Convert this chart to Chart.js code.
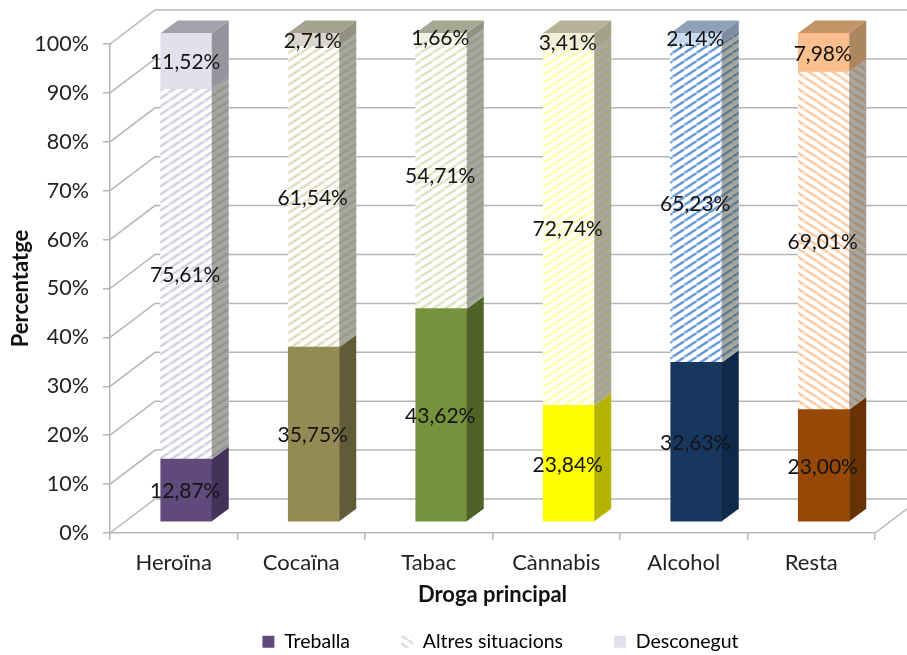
<!DOCTYPE html>
<html><head><meta charset="utf-8">
<style>html,body{margin:0;padding:0;background:#fff}canvas{display:block}</style>
<script src="https://cdn.jsdelivr.net/npm/chart.js@4"></script>
</head><body><canvas id="c" width="907" height="655"></canvas>
<script>
const categories=["Heroïna","Cocaïna","Tabac","Cànnabis","Alcohol","Resta"];
const treballa=[12.87,35.75,43.62,23.84,32.63,23.00];
const altres=[75.61,61.54,54.71,72.74,65.23,69.01];
const desconegut=[11.52,2.71,1.66,3.41,2.14,7.98];
const seriesNames=["Treballa","Altres situacions","Desconegut"];
const yTicks=[0,10,20,30,40,50,60,70,80,90,100];

const solidFront=["#604a7b","#948a54","#76923c","#ffff00","#17375e","#974806"];
const solidSide=["#43335a","#625b38","#4f6228","#b3b300","#10284a","#683204"];
const hatchColor=["#d6cee1","#dfdbc2","#d8e5bd","#ffffa6","#6397d8","#fbc9a0"];
const hatchDir=[1,1,1,1,1,-1];
const topFront=["#e3dfec","#d9d7cb","#edf1e2","#f0efd8","#c9daf0","#fbbf8d"];
const topSide=["#96949d","#93917f","#8e9283","#a3a18a","#7d8ca0","#ab8660"];
const topCap=["#a3a1aa","#a5a38f","#a3a892","#b6b29a","#8ea1b8","#c39466"];
const depth={bx:12.5,by:-11,dx:17,dy:-12.5,wx:45,wy:-34};
const gridColor="#b5b5b5";
const FONT="Lato, Carlito, Calibri, sans-serif";

function hatch(color,dir){
  const w=12,h=8,c=document.createElement("canvas");c.width=w;c.height=h;
  const g=c.getContext("2d");g.fillStyle="#fff";g.fillRect(0,0,w,h);
  g.strokeStyle=color;g.lineWidth=2.4;
  for(let k=-1;k<=1;k++){g.beginPath();
    if(dir>0){g.moveTo(0+k*w,h);g.lineTo(w+k*w,0);}else{g.moveTo(k*w,0);g.lineTo(w+k*w,h);}
    g.stroke();}
  return g.createPattern(c,"repeat");
}
const hatchFills=hatchColor.map((c,i)=>hatch(c,hatchDir[i]));
const legendHatch=hatch("#dddddd",-1);

const depthPlugin={
  id:"depth",
  beforeLayout(chart){
    const lg=chart.legend;
    if(lg && !lg._wrapped){
      const f=lg.fit;
      lg.fit=function(){f.call(this);this.height=36;};
      lg._wrapped=true;
    }
  },
  afterLayout(chart){
    const lg=chart.legend;
    lg.left+=63;lg.right+=63;
    lg.top=641-51-9;
  },
  beforeDatasetsDraw(chart){
    const {ctx,scales:{y},chartArea:a}=chart;
    ctx.save();ctx.strokeStyle=gridColor;ctx.lineWidth=1.5;
    yTicks.forEach(v=>{const p=y.getPixelForValue(v);
      ctx.beginPath();ctx.moveTo(a.left,p);ctx.lineTo(a.left+depth.wx,p+depth.wy);
      ctx.lineTo(a.right+depth.wx,p+depth.wy);ctx.stroke();});
    const p0=y.getPixelForValue(0);
    ctx.beginPath();ctx.moveTo(a.right,p0);ctx.lineTo(a.right+depth.wx,p0+depth.wy);ctx.stroke();
    ctx.restore();
    ctx.save();ctx.translate(depth.bx,depth.by);
  },
  afterDatasetsDraw(chart){
    const {ctx}=chart;
    const n=chart.data.datasets.length;
    for(let d=0;d<n;d++){
      chart.getDatasetMeta(d).data.forEach((b,i)=>{
        const r=b.x+b.width/2;
        const top=b.y,bot=b.base;
        ctx.beginPath();ctx.moveTo(r,top);ctx.lineTo(r+depth.dx,top+depth.dy);
        ctx.lineTo(r+depth.dx,bot+depth.dy);ctx.lineTo(r,bot);ctx.closePath();
        if(d===0){ctx.fillStyle=solidSide[i];ctx.fill();}
        else if(d===1){
          ctx.fillStyle=hatchFills[i];ctx.fill();
          ctx.fillStyle="rgba(95,95,85,0.55)";ctx.fill();
        }else{ctx.fillStyle=topSide[i];ctx.fill();}
        if(d===n-1){
          const l=b.x-b.width/2;
          ctx.beginPath();ctx.moveTo(l,top);ctx.lineTo(r,top);
          ctx.lineTo(r+depth.dx,top+depth.dy);ctx.lineTo(l+depth.dx,top+depth.dy);ctx.closePath();
          ctx.fillStyle=topCap[i];ctx.fill();
        }
      });
    }
    ctx.fillStyle="#141414";ctx.font="21px "+FONT;ctx.textAlign="center";ctx.textBaseline="middle";
    for(let d=0;d<n;d++){
      const ds=chart.data.datasets[d];
      chart.getDatasetMeta(d).data.forEach((b,i)=>{
        const txt=ds.data[i].toFixed(2).replace(".",",")+"%";
        ctx.fillText(txt,b.x-1,(b.y+b.base)/2+1.5);
      });
    }
    ctx.restore();
  }
};

new Chart(document.getElementById("c"),{
  type:"bar",
  data:{labels:categories,datasets:[
    {label:seriesNames[0],data:treballa,backgroundColor:solidFront,clip:false},
    {label:seriesNames[1],data:altres,backgroundColor:hatchFills,clip:false},
    {label:seriesNames[2],data:desconegut,backgroundColor:topFront,clip:false}
  ]},
  options:{
    responsive:false,animation:false,
    layout:{padding:{top:44,right:32,left:0,bottom:0}},
    datasets:{bar:{barThickness:51}},
    plugins:{
      tooltip:{enabled:false},
      legend:{position:"bottom",labels:{
        font:{family:FONT,size:19.5},color:"#222",boxWidth:12,boxHeight:12,padding:51,
        generateLabels(){return [
          {text:seriesNames[0],fillStyle:solidFront[0],strokeStyle:"transparent",lineWidth:0,datasetIndex:0},
          {text:seriesNames[1],fillStyle:legendHatch,strokeStyle:"transparent",lineWidth:0,datasetIndex:1},
          {text:seriesNames[2],fillStyle:topFront[0],strokeStyle:"transparent",lineWidth:0,datasetIndex:2}
        ];}
      }}
    },
    scales:{
      x:{stacked:true,
        afterFit(s){s.height=86;},
        grid:{drawOnChartArea:false,drawTicks:true,tickLength:7,color:gridColor,lineWidth:1.5},
        border:{color:gridColor,width:1.5},
        ticks:{font:{family:FONT,size:22},color:"#222",padding:10,maxRotation:0},
        title:{display:true,text:"Droga principal",font:{family:FONT,size:22,weight:"bold"},color:"#111",padding:{top:6,bottom:11}}
      },
      y:{stacked:true,min:0,max:100,
        afterBuildTicks(s){s.ticks=yTicks.map(v=>({value:v}));},
        afterFit(s){s.width=110;},
        grid:{drawOnChartArea:false,drawTicks:true,tickLength:7,color:gridColor,lineWidth:1.5},
        border:{color:gridColor,width:1.5},
        ticks:{font:{family:FONT,size:21.5},color:"#222",padding:14,callback:v=>v+"%"},
        title:{display:true,text:"Percentatge",font:{family:FONT,size:22,weight:"bold"},color:"#111",padding:{top:8,bottom:0}}
      }
    }
  },
  plugins:[depthPlugin]
});
</script></body></html>
